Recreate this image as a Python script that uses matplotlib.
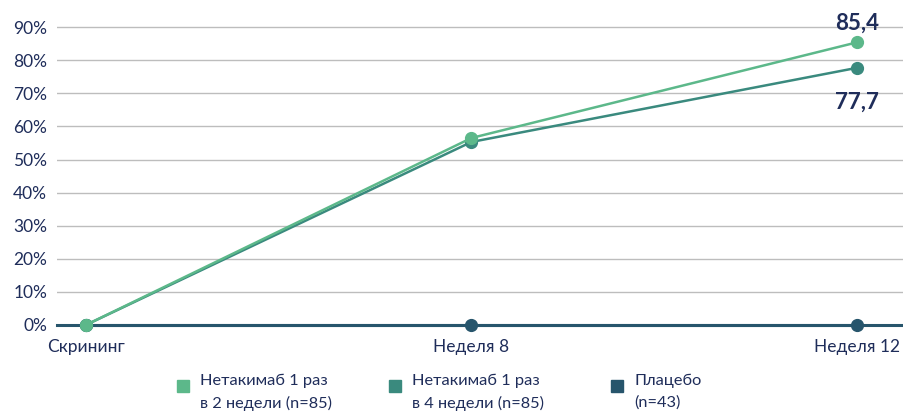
import matplotlib.pyplot as plt
from matplotlib.lines import Line2D

plt.rcParams['font.family'] = ['Lato', 'DejaVu Sans']

visits = ['Скрининг', 'Неделя 8', 'Неделя 12']
q2w = [0, 56.5, 85.4]
q4w = [0, 55.3, 77.7]
placebo = [0, 0, 0]
yticks = [0, 10, 20, 30, 40, 50, 60, 70, 80, 90]
labels = ['Нетакимаб 1 раз\nв 2 недели (n=85)',
          'Нетакимаб 1 раз\nв 4 недели (n=85)',
          'Плацебо\n(n=43)']

c_q2w = '#5cb88a'
c_q4w = '#3a8a7e'
c_pl = '#27556c'
c_txt = '#1f2d5a'

fig = plt.figure(figsize=(9.04, 4.16), dpi=100)
ax = fig.add_axes([0.063, 0.2188, 0.937, 0.7319])

x = range(len(visits))
ax.plot(x, placebo, color=c_pl, lw=2.2, marker='o', ms=8.5, zorder=3, clip_on=False)
ax.plot(x, q4w, color=c_q4w, lw=1.8, marker='o', ms=8.5, zorder=4, clip_on=False)
ax.plot(x, q2w, color=c_q2w, lw=1.8, marker='o', ms=8.5, zorder=5, clip_on=False)

ax.annotate('85,4', (2, q2w[2]), xytext=(0, 6.5), textcoords='offset points',
            ha='center', va='bottom', fontsize=16, fontweight='bold', color=c_txt)
ax.annotate('77,7', (2, q4w[2]), xytext=(0, -17), textcoords='offset points',
            ha='center', va='top', fontsize=16, fontweight='bold', color=c_txt)

ax.set_xlim(-0.075, 2.122)
ax.set_ylim(0, 92)
ax.set_yticks(yticks)
ax.set_yticklabels([f'{v}%' for v in yticks])
ax.set_xticks(list(x))
ax.set_xticklabels(visits)
ax.grid(axis='y', color='#bdbdbd', lw=1)
ax.set_axisbelow(True)
for s in ['top', 'right', 'left']:
    ax.spines[s].set_visible(False)
ax.spines['bottom'].set_color(c_pl)
ax.spines['bottom'].set_linewidth(2.2)
ax.tick_params(axis='y', length=0, pad=7, labelsize=12.5, labelcolor=c_txt)
ax.tick_params(axis='x', length=4, color='#bdbdbd', pad=6, labelsize=12.5, labelcolor=c_txt)

# legend drawn by hand so the square sits level with the first text line
leg_x = [0.2025, 0.437, 0.6825]
leg_y = 1 - 386 / 416
for lx, lab, c in zip(leg_x, labels, [c_q2w, c_q4w, c_pl]):
    fig.add_artist(Line2D([lx], [leg_y], transform=fig.transFigure, ls='none',
                          marker='s', ms=9, color=c))
    fig.text(lx + 0.019, leg_y + 0.030, lab, ha='left', va='top', fontsize=11.8,
             color=c_txt, linespacing=1.7)

fig.savefig('out.png', dpi=100)
